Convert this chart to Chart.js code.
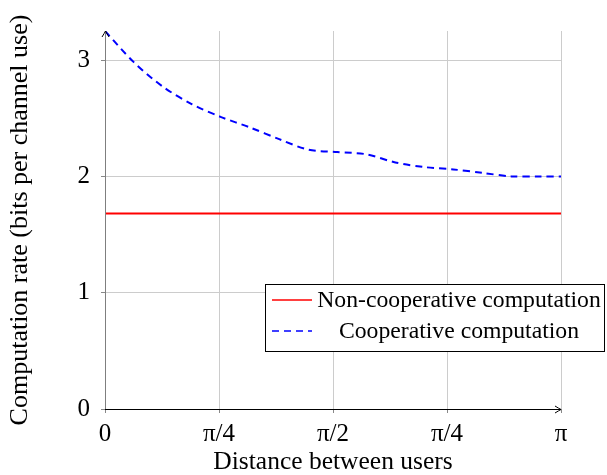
<!DOCTYPE html>
<html><head><meta charset="utf-8">
<script src="https://cdn.jsdelivr.net/npm/chart.js@4/dist/chart.umd.min.js"></script>
<style>html,body{margin:0;padding:0;background:#fff}#wrap{width:607px;height:475px}</style>
</head><body><div id="wrap"><canvas id="c" width="607" height="475"></canvas></div>
<script>
const xValues = [0, 0.2, 0.4, 0.6, 0.8, 1.0, 1.2, 1.4, 1.6, 1.8, 2.0, 2.2, 2.4, 2.6, 2.8, 3.0, Math.PI];
const cooperative = [3.25, 2.98, 2.77, 2.62, 2.51, 2.42, 2.32, 2.23, 2.21, 2.19, 2.12, 2.08, 2.06, 2.03, 2.0, 2.0, 2.0];
const nonCoopX = [0, Math.PI];
const nonCooperative = [1.68, 1.68];
const xTickValues = [0, Math.PI/4, Math.PI/2, 3*Math.PI/4, Math.PI];
const xTickLabels = ['0', 'π/4', 'π/2', 'π/4', 'π'];
const yTickValues = [0, 1, 2, 3];
const seriesNames = ['Non-cooperative computation', 'Cooperative computation'];

const FONT = "'Liberation Serif', 'DejaVu Serif', serif";

const axisArrows = {
  id: 'axisArrows',
  afterDatasetsDraw(chart) {
    const {ctx, chartArea: a} = chart;
    ctx.save();
    ctx.strokeStyle = '#7f7f7f'; ctx.lineWidth = 1;
    ctx.beginPath(); ctx.moveTo(a.left + 0.5, a.bottom); ctx.lineTo(a.left + 0.5, a.top); ctx.stroke();
    ctx.strokeStyle = '#000';
    ctx.beginPath(); ctx.moveTo(a.left, a.bottom + 0.5); ctx.lineTo(a.right, a.bottom + 0.5); ctx.stroke();
    ctx.lineWidth = 1; ctx.strokeStyle = '#000';
    ctx.beginPath();
    ctx.moveTo(a.right - 6, a.bottom + 0.5 - 3.5); ctx.quadraticCurveTo(a.right - 2, a.bottom - 0.5, a.right, a.bottom + 0.5);
    ctx.quadraticCurveTo(a.right - 2, a.bottom + 1.5, a.right - 6, a.bottom + 0.5 + 3.5);
    ctx.stroke();
    ctx.beginPath();
    ctx.moveTo(a.left + 0.5 - 3.5, a.top + 6); ctx.quadraticCurveTo(a.left - 0.5, a.top + 2, a.left + 0.5, a.top);
    ctx.quadraticCurveTo(a.left + 1.5, a.top + 2, a.left + 0.5 + 3.5, a.top + 6);
    ctx.stroke();
    ctx.restore();
  }
};

const boxLegend = {
  id: 'boxLegend',
  afterDraw(chart) {
    const ctx = chart.ctx;
    const x0 = 265.5, y0 = 284.5, w = 339, h = 67;
    ctx.save();
    ctx.fillStyle = '#fff';
    ctx.fillRect(x0, y0, w, h);
    ctx.strokeStyle = '#000'; ctx.lineWidth = 1;
    ctx.strokeRect(x0, y0, w, h);
    const ds = chart.data.datasets;
    const rows = [300, 331];
    ctx.font = '23.7px ' + FONT;
    ctx.textBaseline = 'middle';
    ctx.textAlign = 'center';
    ds.forEach((d, i) => {
      ctx.strokeStyle = d.borderColor; ctx.lineWidth = 1.6;
      ctx.setLineDash(d.borderDash || []);
      ctx.beginPath(); ctx.moveTo(272, rows[i]); ctx.lineTo(312, rows[i]); ctx.stroke();
      ctx.setLineDash([]);
      ctx.fillStyle = '#000';
      ctx.fillText(d.label, 459, rows[i] + 1);
    });
    ctx.restore();
  }
};

new Chart(document.getElementById('c'), {
  type: 'line',
  data: {
    datasets: [
      { label: seriesNames[0], data: nonCoopX.map((x, i) => ({x, y: nonCooperative[i]})),
        borderColor: '#ff0000', borderWidth: 2, pointRadius: 0, tension: 0 },
      { label: seriesNames[1], data: xValues.map((x, i) => ({x, y: cooperative[i]})),
        borderColor: '#0000ff', borderWidth: 2, borderDash: [7, 5], pointRadius: 0, tension: 0.3 }
    ]
  },
  options: {
    responsive: false, animation: false,
    layout: { padding: { top: 31, right: 46, left: 0, bottom: 0 } },
    plugins: { legend: { display: false }, tooltip: { enabled: false } },
    scales: {
      x: {
        type: 'linear', min: 0, max: Math.PI,
        afterBuildTicks(s) { s.ticks = xTickValues.map(v => ({value: v})); },
        afterFit(s) { s.height = 66; },
        ticks: { callback: (v, i) => xTickLabels[i], color: '#000', font: { family: FONT, size: 25 }, padding: 6, maxRotation: 0, autoSkip: false },
        grid: { color: '#cccccc', tickColor: '#888', tickLength: 4 },
        border: { display: false },
        title: { display: true, text: 'Distance between users', color: '#000', font: { family: FONT, size: 25.5 }, padding: { top: 0, bottom: -3 } }
      },
      y: {
        type: 'linear', min: 0, max: 3.25,
        afterBuildTicks(s) { s.ticks = yTickValues.map(v => ({value: v})); },
        afterFit(s) { s.width = 105; },
        ticks: { color: '#000', font: { family: FONT, size: 25 }, padding: 11 },
        grid: { color: '#cccccc', tickColor: '#888', tickLength: 4 },
        border: { display: false },
        title: { display: true, text: 'Computation rate (bits per channel use)', color: '#000', font: { family: FONT, size: 26 }, padding: { top: 5, bottom: 0 } }
      }
    }
  },
  plugins: [axisArrows, boxLegend]
});
</script></body></html>
